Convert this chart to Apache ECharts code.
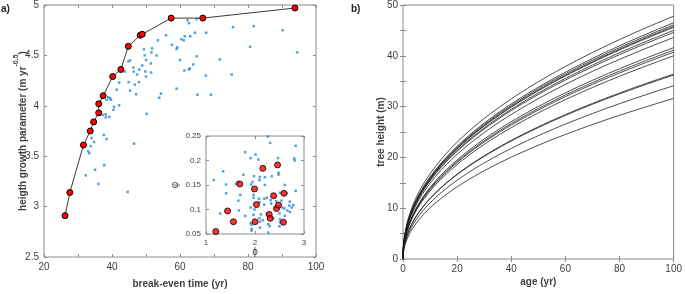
<!DOCTYPE html>
<html>
<head>
<meta charset="utf-8">
<script src="https://cdn.jsdelivr.net/npm/echarts@6/dist/echarts.min.js"></script>
<style>
  html, body { margin: 0; padding: 0; background: #fff; }
  #chart { width: 685px; height: 294px; }
</style>
</head>
<body>
<div id="chart"></div>
<script>
// panel a: pareto front (red) + all other trees (blue)
const frontX = [26.2, 27.6, 31.6, 33.6, 34.6, 36.1, 36.1, 37.4, 40.2, 42.6, 44.8, 48.3, 48.9, 57.4, 66.7, 93.8];
const frontY = [2.91, 3.14, 3.61, 3.75, 3.84, 3.93, 4.02, 4.10, 4.29, 4.36, 4.59, 4.70, 4.71, 4.87, 4.87, 4.97];
const otherX = [62.2, 64.9, 62.6, 75.6, 81.7, 90.2, 55.9, 64.4, 67.7, 61.4, 63.0, 60.4, 61.1, 53.5, 57.6, 59.2, 59.0, 80.6, 49.4, 51.8,
  51.6, 94.5, 49.6, 53.1, 64.9, 45.3, 44.8, 50.0, 60.0, 71.7, 51.4, 63.9, 48.9, 46.3, 48.0, 62.9, 62.6, 61.3, 46.4, 43.8,
  49.8, 51.5, 47.4, 50.0, 67.6, 75.2, 44.9, 47.9, 42.1, 46.7, 59.0, 41.4, 45.3, 47.1, 54.4, 65.1, 69.1, 53.9, 38.9, 39.4,
  39.7, 38.4, 42.1, 40.6, 40.4, 50.2, 37.3, 38.1, 38.2, 39.2, 37.6, 38.4, 34.0, 34.7, 33.7, 46.5, 33.0, 33.3, 35.0, 32.3,
  37.7, 36.0, 44.6];
const otherY = [4.85, 4.86, 4.82, 4.78, 4.79, 4.75, 4.70, 4.725, 4.725, 4.69, 4.69, 4.66, 4.65, 4.65, 4.605, 4.58, 4.565, 4.585, 4.56, 4.57,
  4.53, 4.53, 4.50, 4.50, 4.49, 4.45, 4.44, 4.455, 4.455, 4.46, 4.42, 4.41, 4.40, 4.38, 4.36, 4.37, 4.36, 4.35, 4.34, 4.34,
  4.34, 4.33, 4.31, 4.29, 4.30, 4.31, 4.235, 4.235, 4.23, 4.21, 4.17, 4.16, 4.15, 4.115, 4.12, 4.11, 4.11, 4.08, 4.085, 4.075,
  4.06, 4.06, 4.005, 3.99, 3.96, 3.92, 3.91, 3.915, 3.885, 3.89, 3.71, 3.67, 3.68, 3.64, 3.60, 3.625, 3.55, 3.53, 3.365, 3.31,
  3.41, 3.225, 3.145];

// inset: phi / psi of the same trees
const frontPhi = [1.20, 1.44, 1.56, 1.69, 1.99, 2.03, 2.00, 2.16, 2.38, 2.46, 2.29, 2.31, 2.44, 2.48, 2.59, 2.58];
const frontPsi = [0.055, 0.097, 0.075, 0.152, 0.142, 0.110, 0.075, 0.184, 0.128, 0.191, 0.090, 0.082, 0.102, 0.109, 0.133, 0.074];
const otherPhi = [2.26, 2.31, 2.83, 1.80, 2.01, 1.91, 2.07, 2.47, 2.80, 2.81, 1.35, 2.48, 2.48, 1.76, 1.98, 2.10, 2.20, 2.34, 2.09, 1.16,
  1.95, 1.64, 1.67, 1.61, 1.41, 1.92, 2.20, 2.61, 1.70, 1.97, 2.51, 2.65, 2.83, 1.41, 1.97, 2.08, 2.19, 2.24, 2.32, 2.43,
  2.54, 2.71, 2.78, 2.70, 2.09, 2.19, 2.33, 1.66, 2.41, 2.56, 2.60, 2.75, 2.66, 1.91, 1.99, 1.29, 1.67, 1.80, 1.97, 2.12,
  2.24, 2.50, 2.09, 2.16, 2.37, 2.10, 2.51, 1.91, 1.93, 2.27, 2.30, 2.51, 2.61, 2.71, 1.93, 1.93, 2.27, 2.10, 2.50];
const otherPsi = [0.249, 0.236, 0.230, 0.217, 0.212, 0.205, 0.202, 0.205, 0.204, 0.200, 0.178, 0.175, 0.171, 0.171, 0.168, 0.166, 0.166, 0.168, 0.160, 0.160,
  0.156, 0.156, 0.156, 0.152, 0.151, 0.151, 0.150, 0.150, 0.130, 0.130, 0.134, 0.133, 0.138, 0.133, 0.124, 0.122, 0.122, 0.124, 0.119, 0.117,
  0.118, 0.116, 0.109, 0.108, 0.115, 0.110, 0.112, 0.118, 0.104, 0.104, 0.102, 0.104, 0.098, 0.104, 0.100, 0.092, 0.098, 0.087, 0.089, 0.090,
  0.090, 0.092, 0.082, 0.078, 0.082, 0.075, 0.074, 0.072, 0.069, 0.070, 0.066, 0.080, 0.087, 0.095, 0.060, 0.057, 0.053, 0.063, 0.066];

// panel b: tree height read at age 20 and age 100 for each front tree
const heightAt20 = [23.0, 22.2, 22.0, 21.8, 21.7, 21.4, 21.2, 20.6, 19.5, 19.2, 19.0, 18.6, 16.7, 16.6, 15.5, 14.2];
const heightAt100 = [47.8, 46.5, 46.1, 45.8, 45.6, 45.0, 44.6, 43.6, 41.6, 41.1, 40.7, 40.0, 36.4, 36.2, 34.1, 31.6];

const font = "Liberation Sans";
const txt = "#404040";
const frame = "#8c8c8c";
const blue = "#2b8ad8";

const zip = (a, b) => a.map((v, i) => [v, b[i]]);

// sampling ages, dense near zero where the curves are steep
const ages = [0, 0.02, 0.05, 0.1, 0.2, 0.35, 0.5, 0.75, 1, 1.5, 2, 2.5, 3, 4, 5, 6, 7, 8, 9];
for (let t = 10; t <= 100; t += 2) ages.push(t);

// power-law curve through (0,0), (20,h20), (100,h100)
const curve = (h20, h100) => {
  const b = Math.log(h100 / h20) / Math.log(5);
  const a = h100 / Math.pow(100, b);
  return ages.map((t) => [t, a * Math.pow(t, b)]);
};

const labelStyle = (size) => ({ fontFamily: font, fontSize: size, color: txt });
const nameStyle = { fontFamily: font, fontSize: 10, fontWeight: "bold", color: txt };

// one visible axis (with labels) plus a mirrored one for the ticks on the opposite side
function axisPair(dim, gridIndex, min, max, interval, opts) {
  const base = {
    type: "value", gridIndex, min, max, interval, z: opts.z || 0,
    splitLine: { show: false },
    axisLine: { show: false },
    axisTick: { show: true, inside: true, length: 3, lineStyle: { color: frame } },
    minorTick: { show: !!opts.minor, splitNumber: opts.minor || 5, length: 3, lineStyle: { color: frame } },
  };
  const first = Object.assign({}, base, {
    position: dim === "x" ? "bottom" : "left",
    axisLabel: Object.assign({ margin: 5 }, labelStyle(opts.font || 10)),
    name: opts.name, nameLocation: "middle", nameGap: opts.gap,
    nameMoveOverlap: false,
    nameTextStyle: opts.nameStyle || nameStyle,
  });
  if (dim === "y") first.nameRotate = 90;
  const second = Object.assign({}, base, {
    position: dim === "x" ? "top" : "right",
    axisLabel: { show: false },
  });
  return [first, second];
}

const chart = echarts.init(document.getElementById("chart"));

const insetName = Object.assign({}, nameStyle, { fontWeight: "normal", fontSize: 10 });

const xAxis = [].concat(
  axisPair("x", 0, 20, 100, 20, { minor: 2, name: "break-even time (yr)", gap: 22 }),
  axisPair("x", 1, 1, 3, 1, { font: 8, name: "ϕ", gap: 13, nameStyle: insetName, z: 5 }),
  axisPair("x", 2, 0, 100, 20, { name: "age (yr)", gap: 18 })
);
const yAxis = [].concat(
  axisPair("y", 0, 2.5, 5, 0.5, {
    name: "{t|heigth growth parameter (m yr}{s|-0.5}{t|)}", gap: 16,
    nameStyle: {
      rich: {
        t: Object.assign({}, nameStyle, { lineHeight: 15, verticalAlign: "bottom" }),
        s: Object.assign({}, nameStyle, { fontSize: 7, lineHeight: 15, verticalAlign: "top" }),
      },
    },
  }),
  axisPair("y", 1, 0.05, 0.25, 0.05, { font: 8, name: "φ", gap: 26, nameStyle: insetName, z: 5 }),
  axisPair("y", 2, 0, 50, 10, { minor: 2, name: "tree height (m)", gap: 17 })
);

const series = [
  {
    type: "scatter", xAxisIndex: 0, yAxisIndex: 0, data: zip(otherX, otherY),
    symbol: "rect", symbolSize: 2.5, itemStyle: { color: blue }, z: 2,
  },
  {
    type: "line", xAxisIndex: 0, yAxisIndex: 0, data: zip(frontX, frontY),
    symbol: "circle", symbolSize: 6, showSymbol: true,
    lineStyle: { color: "#3a3a3a", width: 1 },
    itemStyle: { color: "#ff0000", borderColor: "#000", borderWidth: 1 }, z: 3,
  },
  {
    type: "scatter", xAxisIndex: 2, yAxisIndex: 2, data: zip(otherPhi, otherPsi),
    symbol: "rect", symbolSize: 2.5, itemStyle: { color: blue }, z: 6,
  },
  {
    type: "scatter", xAxisIndex: 2, yAxisIndex: 2, data: zip(frontPhi, frontPsi),
    symbol: "circle", symbolSize: 6,
    itemStyle: { color: "#ff0000", borderColor: "#000", borderWidth: 1 }, z: 7,
  },
];
heightAt100.forEach((h, i) => {
  series.push({
    type: "line", xAxisIndex: 4, yAxisIndex: 4, data: curve(heightAt20[i], h),
    showSymbol: false, symbol: "none", lineStyle: { color: "#1e1e1e", width: 0.8 },
  });
});

chart.setOption({
  animation: false,
  grid: [
    { left: 44, top: 4, width: 272, height: 255, show: true, borderColor: frame, borderWidth: 1 },
    { left: 206, top: 136, width: 98, height: 98, show: true, backgroundColor: "#fff", borderColor: frame, borderWidth: 1, z: 4 },
    { left: 403, top: 4, width: 274, height: 255, show: true, borderColor: frame, borderWidth: 1 },
  ],
  xAxis,
  yAxis,
  series,
  graphic: [
    { type: "text", left: 1, top: 4, style: { text: "a)", font: "bold 10px " + font, fill: "#222" } },
    { type: "text", left: 351, top: 4, style: { text: "b)", font: "bold 10px " + font, fill: "#222" } },
  ],
});
</script>
</body>
</html>
